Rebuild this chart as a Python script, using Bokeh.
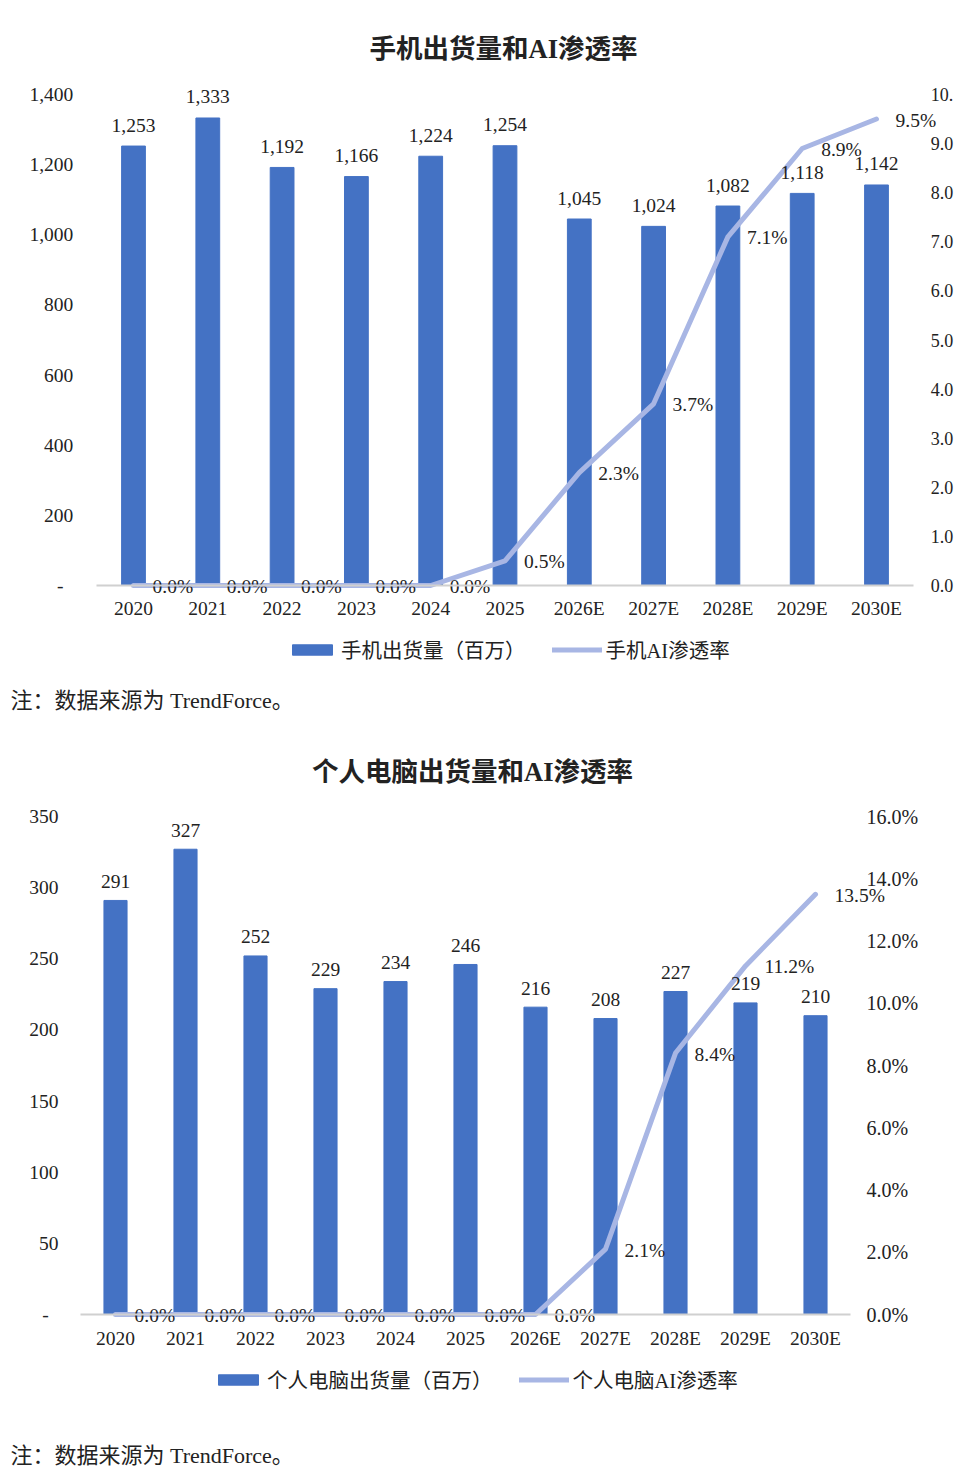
from bokeh.plotting import figure
from bokeh.models import (Range1d, LinearAxis, FixedTicker, NumeralTickFormatter,
                          PrintfTickFormatter, ColumnDataSource, Legend, LegendItem, Label)
from bokeh.layouts import column
from bokeh.embed import file_html
from bokeh.resources import INLINE
from bokeh.core.properties import value

years = ["2020", "2021", "2022", "2023", "2024", "2025", "2026E", "2027E", "2028E", "2029E", "2030E"]
phone_ship = [1253, 1333, 1192, 1166, 1224, 1254, 1045, 1024, 1082, 1118, 1142]
phone_ai = [0.0, 0.0, 0.0, 0.0, 0.0, 0.5, 2.3, 3.7, 7.1, 8.9, 9.5]
pc_ship = [291, 327, 252, 229, 234, 246, 216, 208, 227, 219, 210]
pc_ai = [0.0, 0.0, 0.0, 0.0, 0.0, 0.0, 0.0, 2.1, 8.4, 11.2, 13.5]

phone_left_ticks = [0, 200, 400, 600, 800, 1000, 1200, 1400]
phone_right_ticks = [0, 1, 2, 3, 4, 5, 6, 7, 8, 9, 10]
pc_left_ticks = [0, 50, 100, 150, 200, 250, 300, 350]
pc_right_ticks = [0, 2, 4, 6, 8, 10, 12, 14, 16]

phone_title = "手机出货量和AI渗透率"
pc_title = "个人电脑出货量和AI渗透率"
phone_bar_name = "手机出货量（百万）"
phone_line_name = "手机AI渗透率"
pc_bar_name = "个人电脑出货量（百万）"
pc_line_name = "个人电脑AI渗透率"
note_text = "注：数据来源为 TrendForce。"

FONT = "Liberation Serif, Noto Sans CJK SC"
BAR = "#4472C4"
LINE = "#A8B6E4"
TXT = "#222222"
W = 955
FS = "19.5px"


def make_chart(title, bar_name, line_name, ship, ai, left_ticks, right_ticks, right_fmt,
               right_over, right_fs, H, first_cx, step, top_px, zero_px, bar_w,
               left_standoff, right_standoff, x_standoff, bar_lbl_off,
               title_xy, legend_xy, note_xy):
    n = len(years)
    idx = list(range(n))
    # ranges derived from the pixel layout of the plotting area
    x0 = -first_cx / step
    x1 = (W - first_cx) / step
    lmax = left_ticks[-1]
    rmax = right_ticks[-1]
    lpx = (zero_px - top_px) / lmax
    rpx = (zero_px - top_px) / rmax
    yr = Range1d(-(H - zero_px) / lpx, lmax + top_px / lpx)
    rr = Range1d(-(H - zero_px) / rpx, rmax + top_px / rpx)

    p = figure(width=W, height=H, output_backend="svg", toolbar_location=None,
               x_range=Range1d(x0, x1), y_range=yr, min_border=0)
    p.extra_y_ranges = {"ai": rr}
    p.outline_line_color = None
    p.xgrid.grid_line_color = None
    p.ygrid.grid_line_color = None

    src = ColumnDataSource(dict(
        x=idx, ship=ship, ai=ai,
        ship_lbl=[f"{v:,}" for v in ship],
        ai_lbl=[f"{v:.1f}%" for v in ai],
    ))
    bars = p.vbar(x="x", top="ship", bottom=0, width=bar_w, source=src, color=BAR)
    line = p.line(x="x", y="ai", source=src, y_range_name="ai", color=LINE,
                  line_width=5, line_cap="round", line_join="round")
    p.text(x="x", y="ship", text="ship_lbl", source=src, text_align="center",
           text_baseline="middle", y_offset=bar_lbl_off, text_font=value(FONT),
           text_font_size=FS, text_color=TXT)
    p.text(x="x", y="ai", text="ai_lbl", source=src, y_range_name="ai",
           text_align="left", text_baseline="middle", x_offset=19, y_offset=1,
           text_font=value(FONT), text_font_size=FS, text_color=TXT)

    xa = p.xaxis[0]
    xa.fixed_location = 0
    xa.bounds = (-0.5, n - 0.5)
    xa.ticker = FixedTicker(ticks=idx)
    xa.major_label_overrides = {i: y for i, y in zip(idx, years)}
    xa.axis_line_color = "#D0D0D0"
    xa.axis_line_width = 2
    xa.major_tick_line_color = None
    xa.minor_tick_line_color = None
    xa.major_label_text_font = FONT
    xa.major_label_text_font_size = FS
    xa.major_label_text_color = TXT
    xa.major_label_standoff = x_standoff

    ya = p.yaxis[0]
    ya.fixed_location = -0.5
    ya.ticker = FixedTicker(ticks=left_ticks)
    ya.formatter = NumeralTickFormatter(format="0,0")
    ya.major_label_overrides = {0: "-\u00a0\u00a0"}
    ya.axis_line_color = None
    ya.major_tick_line_color = None
    ya.minor_tick_line_color = None
    ya.major_label_text_font = FONT
    ya.major_label_text_font_size = FS
    ya.major_label_text_color = TXT
    ya.major_label_standoff = left_standoff

    ra = LinearAxis(y_range_name="ai", ticker=FixedTicker(ticks=right_ticks),
                    formatter=PrintfTickFormatter(format=right_fmt),
                    fixed_location=n - 0.5)
    ra.major_label_overrides = right_over
    ra.axis_line_color = None
    ra.major_tick_line_color = None
    ra.minor_tick_line_color = None
    ra.major_label_text_font = FONT
    ra.major_label_text_font_size = right_fs
    ra.major_label_text_color = TXT
    ra.major_label_standoff = right_standoff
    p.add_layout(ra, "right")

    p.add_layout(Label(x=title_xy[0], y=H - title_xy[1], x_units="screen", y_units="screen",
                       text=title, text_align="center", text_baseline="middle",
                       text_font=FONT, text_font_size="26.5px", text_font_style="bold",
                       text_color=TXT))

    legend = Legend(items=[LegendItem(label=bar_name, renderers=[bars]),
                           LegendItem(label=line_name, renderers=[line])],
                    orientation="horizontal", location=(legend_xy[0], H - legend_xy[1] - 14),
                    border_line_color=None, background_fill_alpha=0,
                    label_text_font=FONT, label_text_font_size="20.5px",
                    label_text_color=TXT, glyph_width=50, glyph_height=13,
                    label_standoff=4, spacing=26, padding=0, margin=0)
    p.add_layout(legend, "center")

    p.add_layout(Label(x=note_xy[0], y=H - note_xy[1], x_units="screen", y_units="screen",
                       text=note_text, text_align="left", text_baseline="middle",
                       text_font=FONT, text_font_size="22px", text_color=TXT))
    return p


p1 = make_chart(phone_title, phone_bar_name, phone_line_name, phone_ship, phone_ai,
                phone_left_ticks, phone_right_ticks, "%.1f", {10: "10."}, "18px", 725,
                133, 74.3, 94, 585, 0.32, 17, 11, 6, -21,
                (503, 48), (287, 650), (10, 700))
p2 = make_chart(pc_title, pc_bar_name, pc_line_name, pc_ship, pc_ai,
                pc_left_ticks, pc_right_ticks, "%.1f%%", {}, "20px", 745,
                115, 70.0, 91, 589, 0.33, 16, 10, 7, -19,
                (472, 46), (213, 655), (10, 730))

layout = column(p1, p2, spacing=0)
open("out.html", "w").write(file_html(layout, INLINE))
